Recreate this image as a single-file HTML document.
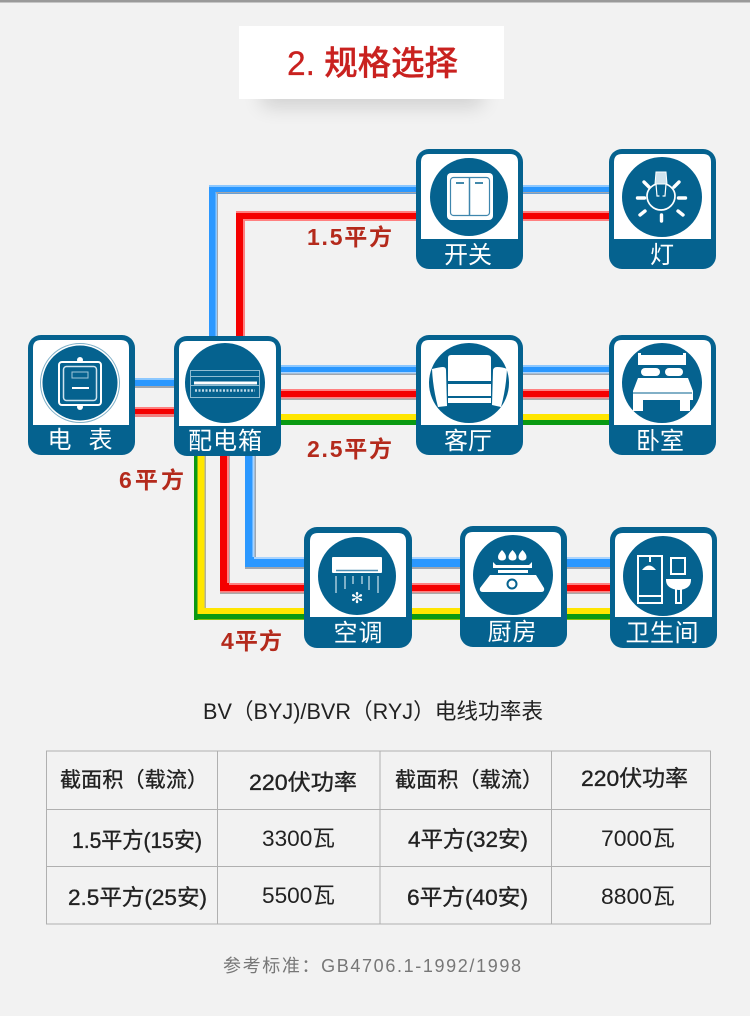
<!DOCTYPE html>
<html><head><meta charset="utf-8"><style>
html,body{margin:0;padding:0;background:#f2f2f2}
svg{display:block}
text{font-family:"Liberation Sans","Noto Sans CJK SC",sans-serif}
.c{font-size:24px;fill:#fff;text-anchor:middle}
.r{font-size:23px;fill:#b42a1c;font-weight:700}
.t{font-size:22px;fill:#222;font-weight:400;stroke:#222;stroke-width:.35}
.h{font-size:21px;fill:#222;font-weight:400;stroke:#222;stroke-width:.35}
</style></head><body>
<svg width="750" height="1016" viewBox="0 0 750 1016" xmlns="http://www.w3.org/2000/svg">
<defs>
<filter id="sh" x="-30%" y="-150%" width="160%" height="400%"><feGaussianBlur stdDeviation="10"/></filter>
</defs>
<rect width="750" height="1016" fill="#f2f2f2"/>
<rect width="750" height="2.500" fill="#9a9a9a"/>
<!-- title -->
<rect x="262" y="82" width="220" height="24" fill="#000" opacity=".15" filter="url(#sh)"/>
<rect x="239" y="26" width="265" height="73" fill="#fff"/>
<text x="287" y="75" font-size="34" font-weight="500" fill="#c9211f" stroke="#c9211f" stroke-width=".3" textLength="171" lengthAdjust="spacingAndGlyphs">2. 规格选择</text>

<!-- top wires -->
<rect x="209" y="185" width="401" height="9" fill="#2b98ff"/>
<rect x="209" y="185" width="8" height="151" fill="#2b98ff"/>
<rect x="215.500" y="192" width="1.500" height="144" fill="#8cc8ff"/><rect x="217" y="192" width="1" height="144" fill="#a0a6ae"/>
<rect x="209" y="185" width="401" height="2" fill="#8cc8ff"/>
<rect x="216" y="192" width="394" height="1.500" fill="#a0a6ae"/>
<rect x="236" y="211" width="374" height="10" fill="#f40000"/>
<rect x="236" y="211" width="9" height="125" fill="#f40000"/>
<rect x="236" y="211" width="374" height="2" fill="#ff8080"/>
<rect x="243" y="219" width="367" height="2" fill="#ff8080"/>
<rect x="243" y="219" width="2" height="117" fill="#ff8080"/>
<!-- meter wires -->
<rect x="134" y="378" width="41" height="10" fill="#2b98ff"/><rect x="134" y="378" width="41" height="2" fill="#8cc8ff"/><rect x="134" y="386" width="41" height="2" fill="#a0a6ae"/>
<rect x="134" y="407" width="41" height="10" fill="#f40000"/><rect x="134" y="407" width="41" height="2" fill="#ff8080"/><rect x="134" y="414" width="41" height="3" fill="#f08080"/>
<!-- middle wires -->
<rect x="280" y="365" width="330" height="10" fill="#2b98ff"/><rect x="280" y="365" width="330" height="2" fill="#8cc8ff"/><rect x="280" y="372" width="330" height="1.500" fill="#a9d4ff"/><rect x="280" y="373.500" width="330" height="1.500" fill="#a0a6ae"/>
<rect x="280" y="389" width="330" height="11" fill="#f40000"/><rect x="280" y="389" width="330" height="2" fill="#ff8080"/><rect x="280" y="397" width="330" height="1.500" fill="#ff8080"/><rect x="280" y="398.500" width="330" height="1.500" fill="#aaa"/>
<rect x="280" y="414" width="330" height="6" fill="#ffe600"/><rect x="280" y="420" width="330" height="5" fill="#0a9a12"/>
<!-- bottom wires -->
<rect x="245" y="455" width="11" height="114" fill="#2b98ff"/><rect x="245" y="557" width="366" height="12" fill="#2b98ff"/>
<rect x="252.500" y="455" width="2" height="102" fill="#a9d4ff"/><rect x="254.500" y="455" width="1.500" height="103" fill="#a0a6ae"/>
<rect x="254" y="557" width="357" height="2" fill="#a9d4ff"/>
<rect x="245" y="567" width="366" height="2" fill="#a0a6ae"/>
<rect x="220" y="455" width="10" height="139" fill="#f40000"/><rect x="220" y="583" width="391" height="11" fill="#f40000"/>
<rect x="227" y="455" width="2" height="128" fill="#ff8080"/><rect x="229" y="455" width="1" height="129" fill="#aaa"/>
<rect x="229" y="583" width="382" height="2" fill="#ff8080"/><rect x="220" y="591" width="391" height="1.500" fill="#ff8080"/><rect x="220" y="592.500" width="391" height="1.500" fill="#aaa"/>
<rect x="194" y="455" width="12" height="165" fill="#ffe600"/><rect x="194" y="608" width="417" height="12" fill="#ffe600"/>
<rect x="204.500" y="455" width="1.500" height="153" fill="#b0b0a0"/>
<rect x="194" y="455" width="3.500" height="165" fill="#0a9a12"/><rect x="194" y="614" width="417" height="5.500" fill="#0a9a12"/>

<!-- cards -->
<g fill="#05628f">
<rect x="28" y="335" width="107" height="120" rx="13"/>
<rect x="174" y="336" width="107" height="120" rx="13"/>
<rect x="416" y="149" width="107" height="120" rx="13"/>
<rect x="609" y="149" width="107" height="120" rx="13"/>
<rect x="416" y="335" width="107" height="120" rx="13"/>
<rect x="609" y="335" width="107" height="120" rx="13"/>
<rect x="304" y="527" width="108" height="121" rx="13"/>
<rect x="460" y="526" width="107" height="121" rx="13"/>
<rect x="610" y="527" width="107" height="121" rx="13"/>
</g>
<g fill="#fff">
<path d="M33 425V348q0-8 8-8h80q8 0 8 8v77z"/>
<path d="M179 426V349q0-8 8-8h81q8 0 8 8v77z"/>
<path d="M421 239V162q0-8 8-8h81q8 0 8 8v77z"/>
<path d="M614 239V162q0-8 8-8h81q8 0 8 8v77z"/>
<path d="M421 425V348q0-8 8-8h81q8 0 8 8v77z"/>
<path d="M614 425V348q0-8 8-8h81q8 0 8 8v77z"/>
<path d="M310 617V541q0-8 8-8h80q8 0 8 8v76z"/>
<path d="M465 617V540q0-8 8-8h80q8 0 8 8v77z"/>
<path d="M615 617V541q0-8 8-8h81q8 0 8 8v76z"/>
</g>
<g fill="#05628f">
<circle cx="80" cy="383" r="37.500"/>
<circle cx="225" cy="383" r="40"/>
<circle cx="469" cy="197" r="39"/>
<circle cx="662" cy="197" r="40"/>
<circle cx="469" cy="383" r="40"/>
<circle cx="662" cy="383" r="40"/>
<circle cx="357" cy="576" r="39"/>
<circle cx="513" cy="575" r="40"/>
<circle cx="663" cy="576" r="40"/>
</g>
<circle cx="80" cy="383" r="39.500" fill="none" stroke="#7fb0c8" stroke-width="1"/>

<!-- meter icon -->
<rect x="59" y="362" width="42" height="43" rx="3" fill="#05628f" stroke="#fff" stroke-width="2"/>
<rect x="63.500" y="366.500" width="33" height="34" rx="3" fill="#05628f" stroke="#cfe3ee" stroke-width="1.500"/>
<circle cx="80" cy="360" r="3" fill="#fff"/><circle cx="80" cy="407" r="3" fill="#fff"/>
<rect x="72" y="372" width="16" height="6" fill="none" stroke="#9fc6da" stroke-width="1"/>
<rect x="72" y="387" width="17" height="2" fill="#fff"/>
<!-- breaker icon -->
<rect x="190.500" y="370.500" width="69" height="27" fill="none" stroke="#8fbdd2" stroke-width="1"/>
<rect x="194" y="381.500" width="63" height="3" fill="#fff"/>
<path d="M195 390.500H255" stroke="#bcd8e6" stroke-width="2.500" stroke-dasharray="2 1.500"/>
<path d="M191 376.500H259M191 385.500H259" stroke="#8fbdd2" stroke-width="1"/>
<!-- switch icon -->
<rect x="447" y="173" width="46" height="47" rx="4" fill="#fff"/>
<rect x="450.500" y="177.500" width="39" height="38" rx="3" fill="none" stroke="#3f86ad" stroke-width="1.200"/>
<path d="M469.500 177V216" stroke="#3f86ad" stroke-width="1.500"/>
<path d="M456 183h8M475 183h8" stroke="#05628f" stroke-width="1.500"/>
<!-- bulb icon -->
<g fill="none" stroke="#fff" stroke-linecap="round">
<path d="M656 184q-9 4-9 12a14 14 0 0 0 28 0q0-8-9-12" stroke-width="1.700"/>
<path d="M656 184l1 12h2M666 184l-1 12h-2" stroke-width="1.200"/>
<path d="M656 172h10l1 12h-12z" fill="#cfe3ee" stroke-width="1"/>
<g stroke-width="3.400">
<path d="M637.500 198h7M678.500 198h7M661.500 215v6M645 211l-5 4M678 211l5 4M644 182l5 5M679 182l-5 5"/>
</g>
</g>
<!-- sofa icon -->
<g fill="#fff">
<path d="M448 358q0-3 3-3h36q4 0 4 3v23h-43z"/>
<path d="M448 384h43v12h-43z"/>
<path d="M448 398h43v5h-43z"/>
<path d="M432 369q8-2 11-2q3 0 3 3l1 36l-9 1q-5-18-6-38z"/>
<path d="M497 367q6 0 10 2q-1 20-6 38l-9-2 1-34q0-4 4-4z"/>
</g>
<!-- bed icon -->
<g fill="#fff">
<path d="M638 353h3v2h42v-2h3v12h-48z"/>
<rect x="641" y="368" width="19" height="8" rx="4"/>
<rect x="665" y="368" width="18" height="8" rx="4"/>
<path d="M638 378h50l5 13v9h-60v-9z"/>
<rect x="633" y="400" width="10" height="11"/>
<rect x="680" y="400" width="10" height="11"/>
</g>
<path d="M633 393H692" stroke="#05628f" stroke-width="1"/>
<!-- ac icon -->
<rect x="332" y="557" width="50" height="16" rx="1" fill="#fff"/>
<path d="M336 570.500H378" stroke="#4c8fb4" stroke-width="1.500"/>
<path d="M336 576v17M345 576v13M353 576v8M362 576v8M369 576v14M378 576v17" stroke="#cfe3ee" stroke-width="1.200"/>
<text x="357" y="603" font-size="15" fill="#fff" text-anchor="middle">✻</text>
<!-- stove icon -->
<g fill="#fff">
<path d="M502 550q-4 4-4 7q0 3.500 4 3.500t4-3.500q0-3-4-7z"/>
<path d="M512.500 550q-4 4-4 7q0 3.500 4 3.500t4-3.500q0-3-4-7z"/>
<path d="M522.500 550q-4 4-4 7q0 3.500 4 3.500t4-3.500q0-3-4-7z"/>
<path d="M493 562l3 3h33l3-3v6h-39z"/>
<rect x="498" y="570" width="30" height="3"/>
<path d="M490 575h46l8 13q1 4-3 4h-58q-4 0-3-4z"/>
</g>
<circle cx="512" cy="584" r="4.500" fill="#fff" stroke="#05628f" stroke-width="2"/>
<!-- bath icon -->
<g fill="none" stroke="#fff" stroke-width="2">
<rect x="638" y="556" width="24" height="47"/>
<path d="M638 596H662"/>
<path d="M650 556v6"/>
<rect x="671" y="558" width="14" height="16"/>
<path d="M667 580h23q0 8-11 9q-12-1-12-9z" fill="#fff"/>
<path d="M676 589v14h5v-14"/>
</g>
<path d="M642 570q7-9 14 0z" fill="#fff"/>

<!-- card labels -->
<g>
<text class="c" x="80" y="448" textLength="65" lengthAdjust="spacing">电 表</text>
<text class="c" x="225" y="449" textLength="74" lengthAdjust="spacing">配电箱</text>
<text class="c" x="468" y="263" textLength="48" lengthAdjust="spacing">开关</text>
<text class="c" x="662" y="263">灯</text>
<text class="c" x="468" y="449" textLength="48" lengthAdjust="spacing">客厅</text>
<text class="c" x="660" y="449" textLength="48" lengthAdjust="spacing">卧室</text>
<text class="c" x="358" y="641" textLength="49" lengthAdjust="spacing">空调</text>
<text class="c" x="512" y="640" textLength="49" lengthAdjust="spacing">厨房</text>
<text class="c" x="662" y="641" textLength="73" lengthAdjust="spacing">卫生间</text>
</g>
<!-- red labels -->
<text class="r" x="307" y="245" textLength="85" lengthAdjust="spacing">1.5平方</text>
<text class="r" x="307" y="457" textLength="85" lengthAdjust="spacing">2.5平方</text>
<text class="r" x="119" y="488" textLength="65" lengthAdjust="spacing">6平方</text>
<text class="r" x="221" y="649" textLength="61" lengthAdjust="spacing">4平方</text>

<!-- subtitle -->
<text x="203" y="719" font-size="22" fill="#222" textLength="340" lengthAdjust="spacingAndGlyphs">BV（BYJ)/BVR（RYJ）电线功率表</text>

<!-- table -->
<g fill="none" stroke="#b0b0b0" stroke-width="1">
<rect x="46.500" y="751" width="664" height="173"/>
<path d="M46 809.500H711M46 866.500H711M217.500 751V924M380 751V924M551.500 751V924"/>
</g>
<g>
<text class="h" x="60" y="787" textLength="148" lengthAdjust="spacing">截面积（载流）</text>
<text class="t" x="249" y="790" textLength="108" lengthAdjust="spacingAndGlyphs">220伏功率</text>
<text class="h" x="395" y="787" textLength="148" lengthAdjust="spacing">截面积（载流）</text>
<text class="t" x="581" y="786" textLength="107" lengthAdjust="spacingAndGlyphs">220伏功率</text>
<text class="t" x="72" y="848" textLength="130" lengthAdjust="spacingAndGlyphs">1.5平方(15安)</text>
<text class="t" x="262" y="846" textLength="73" lengthAdjust="spacingAndGlyphs" style="stroke-width:0">3300瓦</text>
<text class="t" x="408" y="847" textLength="120" lengthAdjust="spacingAndGlyphs">4平方(32安)</text>
<text class="t" x="601" y="846" textLength="74" lengthAdjust="spacingAndGlyphs" style="stroke-width:0">7000瓦</text>
<text class="t" x="68" y="905" textLength="139" lengthAdjust="spacingAndGlyphs">2.5平方(25安)</text>
<text class="t" x="262" y="903" textLength="73" lengthAdjust="spacingAndGlyphs" style="stroke-width:0">5500瓦</text>
<text class="t" x="407" y="905" textLength="121" lengthAdjust="spacingAndGlyphs">6平方(40安)</text>
<text class="t" x="601" y="904" textLength="74" lengthAdjust="spacingAndGlyphs" style="stroke-width:0">8800瓦</text>
</g>
<text x="223" y="972" font-size="18" fill="#777" textLength="298" lengthAdjust="spacing">参考标准：GB4706.1-1992/1998</text>
</svg>
</body></html>
